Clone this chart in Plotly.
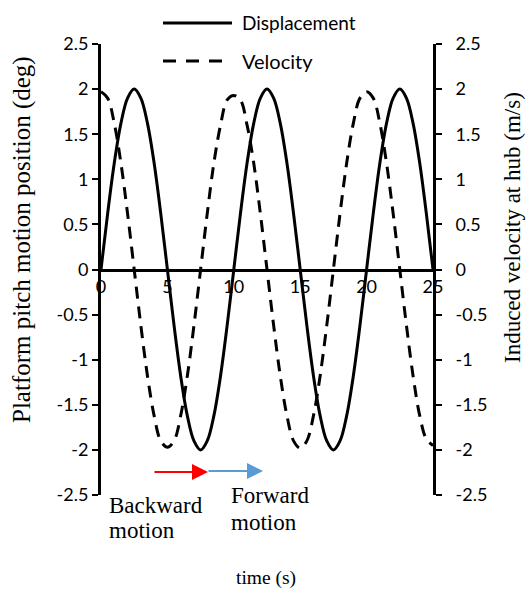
import plotly.graph_objects as go

# time (s)
time_s = [0, 0.5, 1, 1.5, 2, 2.5, 3, 3.5, 4, 4.5, 5, 5.5, 6, 6.5, 7, 7.5, 8, 8.5, 9, 9.5,
          10, 10.5, 11, 11.5, 12, 12.5, 13, 13.5, 14, 14.5, 15, 15.5, 16, 16.5, 17, 17.5,
          18, 18.5, 19, 19.5, 20, 20.5, 21, 21.5, 22, 22.5, 23, 23.5, 24, 24.5, 25]

# Platform pitch motion position (deg)
displacement = [0, 0.62, 1.18, 1.62, 1.90, 2.0, 1.90, 1.62, 1.18, 0.62,
                0, -0.62, -1.18, -1.62, -1.90, -2.0, -1.90, -1.62, -1.18, -0.62,
                0, 0.62, 1.18, 1.62, 1.90, 2.0, 1.90, 1.62, 1.18, 0.62,
                0, -0.62, -1.18, -1.62, -1.90, -2.0, -1.90, -1.62, -1.18, -0.62,
                0, 0.62, 1.18, 1.62, 1.90, 2.0, 1.90, 1.62, 1.18, 0.62, 0]

# Induced velocity at hub (m/s)
velocity = [1.97, 1.90, 1.62, 1.18, 0.62, 0, -0.62, -1.18, -1.62, -1.90,
            -1.97, -1.90, -1.62, -1.18, -0.62, 0, 0.62, 1.18, 1.60, 1.88,
            1.93, 1.88, 1.60, 1.18, 0.62, 0, -0.62, -1.18, -1.62, -1.90,
            -1.98, -1.90, -1.62, -1.18, -0.62, 0, 0.62, 1.18, 1.62, 1.90,
            1.97, 1.90, 1.62, 1.18, 0.62, 0, -0.62, -1.18, -1.62, -1.88, -1.95]

x_ticks = [0, 5, 10, 15, 20, 25]
y_ticks = [2.5, 2, 1.5, 1, 0.5, 0, -0.5, -1, -1.5, -2, -2.5]
y_tick_text = ["2.5", "2", "1.5", "1", "0.5", "0", "-0.5", "-1", "-1.5", "-2", "-2.5"]

SANS = "Lato, 'Open Sans', sans-serif"
SERIF = "'Liberation Serif', 'Times New Roman', serif"

fig = go.Figure()
fig.add_trace(go.Scatter(x=time_s, y=displacement, name="Displacement", mode="lines",
                         line=dict(color="black", width=3, shape="spline"),
                         showlegend=False))
fig.add_trace(go.Scatter(x=time_s, y=velocity, name="Velocity", mode="lines", yaxis="y2",
                         line=dict(color="black", width=3, dash="12px,8px", shape="spline"),
                         showlegend=False))

L, R, T, B = 101, 93, 44, 104
W, H = 526, 599
PW, PH = W - L - R, H - T - B


def px(xp):
    return (xp - L) / PW


def py(yp):
    return (H - B - yp) / PH


fig.update_layout(
    width=W, height=H,
    margin=dict(l=L, r=R, t=T, b=B),
    paper_bgcolor="white", plot_bgcolor="white",
    xaxis=dict(range=[0, 25], tickvals=x_ticks, ticktext=[str(v) for v in x_ticks],
               anchor="free", position=0.5, showline=True, linecolor="black", linewidth=3,
               ticks="", showgrid=False, zeroline=False,
               tickfont=dict(family=SANS, size=18, color="black")),
    yaxis=dict(range=[-2.5, 2.5], tickvals=y_ticks, ticktext=y_tick_text,
               showline=True, linecolor="black", linewidth=3,
               ticks="outside", ticklen=6, tickwidth=2, tickcolor="black",
               showgrid=False, zeroline=False,
               tickfont=dict(family=SANS, size=18, color="black")),
    yaxis2=dict(range=[-2.5, 2.5], tickvals=y_ticks, ticktext=y_tick_text,
                overlaying="y", side="right", anchor="x",
                showline=True, linecolor="black", linewidth=3,
                ticks="outside", ticklen=6, tickwidth=2, tickcolor="black",
                ticklabelstandoff=10,
                showgrid=False, zeroline=False,
                tickfont=dict(family=SANS, size=18, color="black")),
    showlegend=False,
)

annotations = []
shapes = []

# Axis titles
annotations.append(dict(text="Platform pitch motion position (deg)", xref="paper", yref="paper",
                        x=px(22), y=py(240), textangle=-90, showarrow=False,
                        font=dict(family=SERIF, size=25, color="black"),
                        xanchor="center", yanchor="middle"))
annotations.append(dict(text="Induced velocity at hub (m/s)", xref="paper", yref="paper",
                        x=px(512), y=py(228), textangle=-90, showarrow=False,
                        font=dict(family=SERIF, size=23, color="black"),
                        xanchor="center", yanchor="middle"))
annotations.append(dict(text="time (s)", xref="paper", yref="paper",
                        x=px(266), y=py(578), showarrow=False,
                        font=dict(family=SERIF, size=19.5, color="black"),
                        xanchor="center", yanchor="middle"))

# Legend (custom)
shapes.append(dict(type="line", xref="paper", yref="paper", x0=px(163), x1=px(232),
                   y0=py(23), y1=py(23), line=dict(color="black", width=3)))
shapes.append(dict(type="line", xref="paper", yref="paper", x0=px(163), x1=px(232),
                   y0=py(61), y1=py(61), line=dict(color="black", width=3, dash="13px,10px")))
annotations.append(dict(text="Displacement", xref="paper", yref="paper", x=px(240), y=py(23),
                        showarrow=False, xanchor="left", yanchor="middle",
                        font=dict(family=SANS, size=19, color="black")))
annotations.append(dict(text="Velocity", xref="paper", yref="paper", x=px(240), y=py(61),
                        showarrow=False, xanchor="left", yanchor="middle",
                        font=dict(family=SANS, size=20, color="black")))

# Motion arrows
annotations.append(dict(text="", xref="paper", yref="paper", x=px(208), y=py(472),
                        ax=-55, ay=0, showarrow=True, arrowhead=2, arrowsize=1.6,
                        arrowwidth=2, arrowcolor="#FF0000"))
annotations.append(dict(text="", xref="paper", yref="paper", x=px(263), y=py(471),
                        ax=-56, ay=0, showarrow=True, arrowhead=2, arrowsize=1.6,
                        arrowwidth=2, arrowcolor="#5B9BD5"))
for txt, xl, yc in [("Backward", 107, 505), ("motion", 107, 530),
                    ("Forward", 229, 495), ("motion", 229, 522)]:
    annotations.append(dict(text=txt, xref="paper", yref="paper",
                            x=px(xl), y=py(yc), showarrow=False, xanchor="left",
                            yanchor="middle",
                            font=dict(family=SERIF, size=23, color="black")))

fig.update_layout(annotations=annotations, shapes=shapes)

fig.write_html("out.html")
